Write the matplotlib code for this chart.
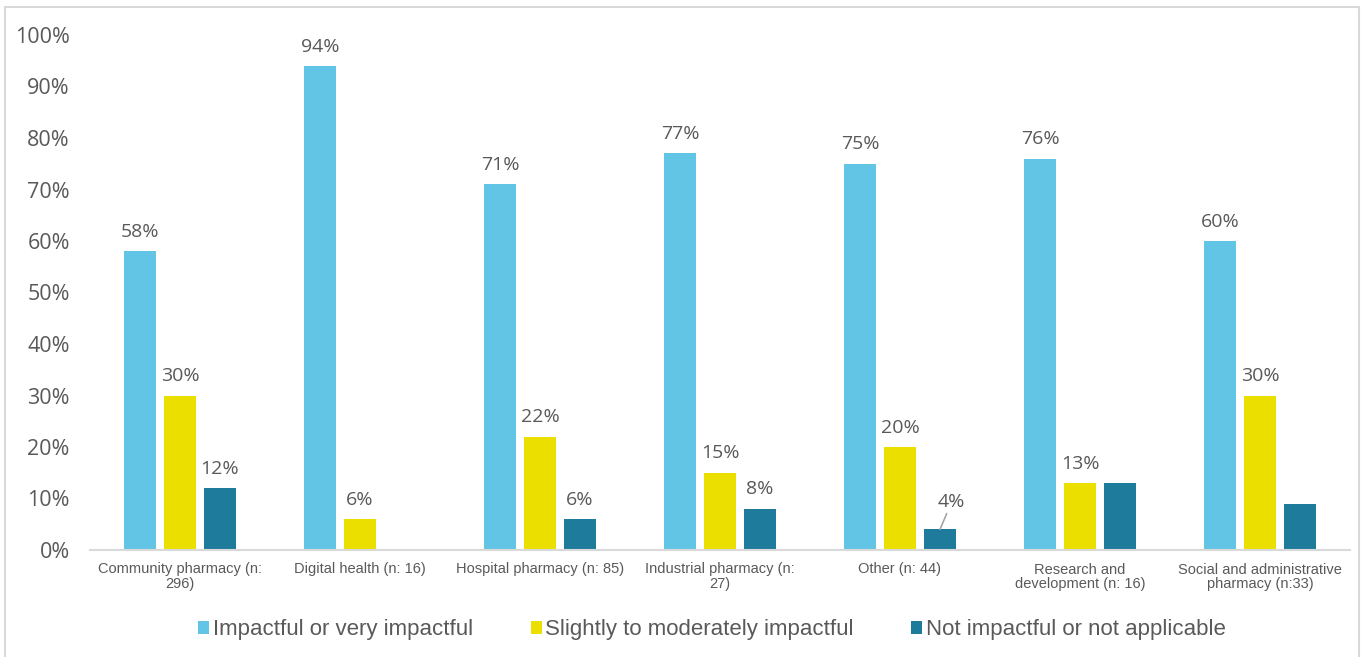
import matplotlib
matplotlib.use("Agg")
import matplotlib.pyplot as plt
from matplotlib.patches import Rectangle
import numpy as np

categories = [
    "Community pharmacy (n:\n296)",
    "Digital health (n: 16)",
    "Hospital pharmacy (n: 85)",
    "Industrial pharmacy (n:\n27)",
    "Other (n: 44)",
    "Research and\ndevelopment (n: 16)",
    "Social and administrative\npharmacy (n:33)",
]
series_names = [
    "Impactful or very impactful",
    "Slightly to moderately impactful",
    "Not impactful or not applicable",
]
impactful = [58, 94, 71, 77, 75, 76, 60]
slightly = [30, 6, 22, 15, 20, 13, 30]
not_impactful = [12, 0, 6, 8, 4, 13, 9]
# which values carry a data label (per series)
show_label = [
    [True] * 7,
    [True] * 7,
    [True, False, True, True, True, False, False],
]
yticks = [0, 10, 20, 30, 40, 50, 60, 70, 80, 90, 100]

colors = ["#63C5E5", "#EBDF00", "#1F7B9B"]
text_color = "#595959"

W, H = 1366, 657
fig = plt.figure(figsize=(W / 100, H / 100), dpi=100)
fig.patch.set_facecolor("white")

# thin grey frame around the chart area
fig.patches.append(Rectangle((5 / W, -0.02), (1359 - 5) / W, 1.02 - 7 / H,
                             transform=fig.transFigure, fill=False,
                             edgecolor="#d9d9d9", linewidth=1.5))

ax = fig.add_axes([90 / W, 1 - 550 / H, 1260 / W, (550 - 35) / H])

x = np.arange(len(categories))
width = 32 / 180
pitch = 40 / 180
all_series = [impactful, slightly, not_impactful]
num_font = ["Open Sans", "DejaVu Sans"]
cond_font = ["Liberation Sans Narrow", "Liberation Sans", "DejaVu Sans"]

handles = []
for i, (vals, col) in enumerate(zip(all_series, colors)):
    pos = x + (i - 1) * pitch
    bars = ax.bar(pos, vals, width=width, color=col, edgecolor="none",
                  label=series_names[i])
    handles.append(bars)
    for j, (p, v) in enumerate(zip(pos, vals)):
        if not show_label[i][j]:
            continue
        if i == 2 and v <= 5:
            # small bar: label pushed up with a leader line
            ax.annotate(f"{v}%", xy=(p, v), xytext=(p + 0.065, v + 3.6),
                        ha="center", va="bottom", fontsize=14,
                        color=text_color, family=num_font,
                        arrowprops=dict(arrowstyle="-", color="#a6a6a6",
                                        lw=1.2, shrinkA=0, shrinkB=0))
        else:
            ax.text(p, v + 2.0, f"{v}%", ha="center", va="bottom",
                    fontsize=14, color=text_color, family=num_font)

ax.set_xlim(-0.5, len(categories) - 0.5)
ax.set_ylim(0, 100)
ax.set_yticks(yticks)
ax.set_yticklabels([f"{t}%" for t in yticks], fontsize=15.5, color=text_color,
                   family=num_font)
ax.set_xticks(x)
ax.set_xticklabels(categories, fontsize=10.5, color=text_color,
                   family=cond_font, linespacing=1.05)
ax.tick_params(axis="y", length=0, pad=14.5)
ax.tick_params(axis="x", length=0, pad=9)
for s in ["top", "right", "left"]:
    ax.spines[s].set_visible(False)
ax.spines["bottom"].set_color("#d9d9d9")
ax.spines["bottom"].set_linewidth(1.5)

leg = fig.legend(handles=handles, labels=series_names, loc="center",
                 bbox_to_anchor=(712 / W, 1 - 630 / H), ncol=3, frameon=False,
                 prop={"family": cond_font, "size": 16},
                 handlelength=0.5, handleheight=0.5, handletextpad=0.15,
                 columnspacing=2.6)
for t in leg.get_texts():
    t.set_color(text_color)

fig.savefig("out.png", dpi=100, facecolor="white")
